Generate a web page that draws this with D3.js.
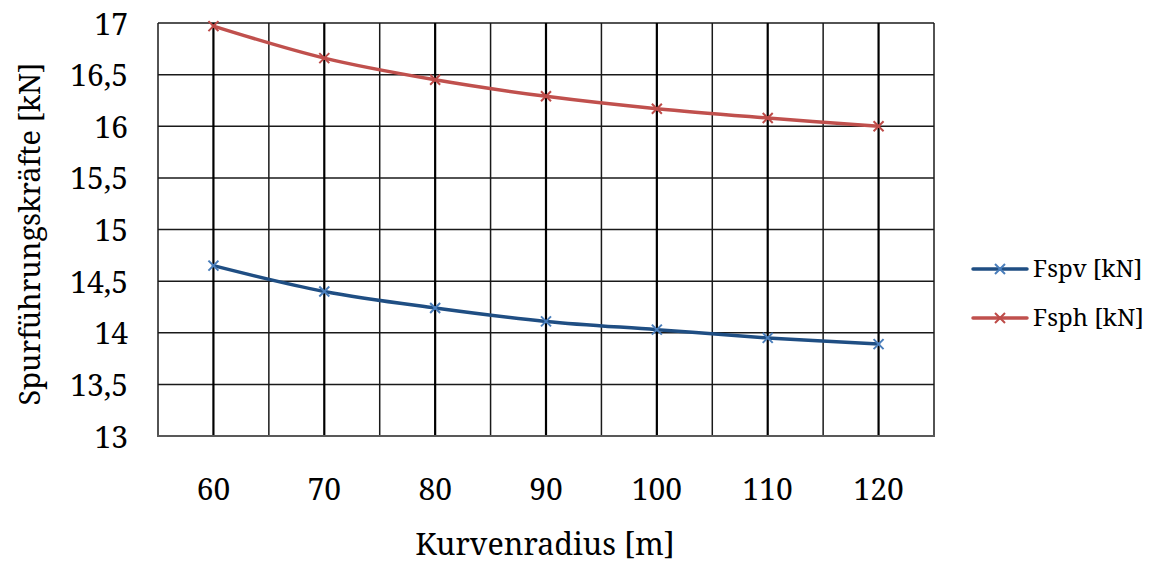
<!DOCTYPE html>
<html>
<head>
<meta charset="utf-8">
<script src="https://cdn.jsdelivr.net/npm/d3@7"></script>
<style>
  html, body { margin: 0; padding: 0; background: #fff; }
  svg text { font-family: "Noto Serif", "DejaVu Serif", serif; fill: #000; }
</style>
</head>
<body>
<svg id="chart" width="1165" height="563"></svg>
<script>
// Kurvenradius in m
const radii = [60, 70, 80, 90, 100, 110, 120];
// Spurführungskräfte in kN
const fspv = [14.65, 14.40, 14.24, 14.11, 14.03, 13.95, 13.89];
const fsph = [16.97, 16.66, 16.45, 16.29, 16.17, 16.08, 16.00];
const yTicks = [13, 13.5, 14, 14.5, 15, 15.5, 16, 16.5, 17];
const seriesNames = ["Fspv [kN]", "Fsph [kN]"];

const series = [
  { name: seriesNames[0], values: fspv, line: "#1F4E83", marker: "#4A7EBB" },
  { name: seriesNames[1], values: fsph, line: "#C0504D", marker: "#BE4B48" }
];

const FONT = '"Noto Serif", "DejaVu Serif", serif';
const svg = d3.select("#chart");
const plot = { left: 158, right: 934, top: 23, bottom: 436 };

const x = d3.scaleBand()
  .domain(radii)
  .range([plot.left, plot.right])
  .paddingInner(0).paddingOuter(0);

const y = d3.scaleLinear()
  .domain([13, 17])
  .range([plot.bottom, plot.top]);

const cx = r => x(r) + x.bandwidth() / 2;
const fmt = v => d3.format("~g")(v).replace(".", ",");

// horizontal gridlines
svg.append("g")
  .selectAll("line")
  .data(yTicks.filter(t => t > 13))
  .join("line")
  .attr("x1", plot.left).attr("x2", plot.right)
  .attr("y1", d => y(d)).attr("y2", d => y(d))
  .attr("stroke", "#1a1a1a").attr("stroke-width", 1.5);

// vertical gridlines at category boundaries
const edges = radii.map(r => x(r)).concat([plot.right]);
svg.append("g")
  .selectAll("line")
  .data(edges)
  .join("line")
  .attr("x1", d => d).attr("x2", d => d)
  .attr("y1", plot.top).attr("y2", plot.bottom)
  .attr("stroke", "#1a1a1a").attr("stroke-width", 1.5);

// vertical gridlines at category centres
svg.append("g")
  .selectAll("line")
  .data(radii)
  .join("line")
  .attr("x1", d => cx(d)).attr("x2", d => cx(d))
  .attr("y1", plot.top).attr("y2", plot.bottom)
  .attr("stroke", "#000").attr("stroke-width", 2.2);

// bottom axis line
svg.append("line")
  .attr("x1", plot.left - 1).attr("x2", plot.right + 1)
  .attr("y1", plot.bottom).attr("y2", plot.bottom)
  .attr("stroke", "#595959").attr("stroke-width", 2);

// y tick labels
const yAxis = d3.axisLeft(y).tickValues(yTicks).tickFormat(fmt).tickSize(0).tickPadding(30);
const gy = svg.append("g").attr("transform", `translate(${plot.left},0)`).call(yAxis);
gy.attr("font-family", FONT);
gy.select(".domain").remove();
gy.selectAll("text")
  .style("font-family", FONT)
  .attr("font-size", 30).attr("dy", 11);

// x tick labels
const xAxis = d3.axisBottom(x).tickSize(0).tickPadding(0);
const gx = svg.append("g").attr("transform", `translate(0,${plot.bottom})`).call(xAxis);
gx.attr("font-family", FONT);
gx.select(".domain").remove();
gx.selectAll("text")
  .style("font-family", FONT)
  .attr("font-size", 30).attr("y", 64).attr("dy", 0);

// axis titles
svg.append("text")
  .style("font-family", FONT)
  .attr("x", 545).attr("y", 555)
  .attr("text-anchor", "middle").attr("font-size", 30.5)
  .text("Kurvenradius [m]");

svg.append("text")
  .style("font-family", FONT)
  .attr("transform", "translate(40,234) rotate(-90)")
  .attr("text-anchor", "middle").attr("font-size", 29)
  .text("Spurführungskräfte [kN]");

// series lines and markers
const line = d3.line()
  .x((d, i) => cx(radii[i]))
  .y(d => y(d))
  .curve(d3.curveCatmullRom.alpha(0.5));

const xMark = (g, px, py, color) => {
  const s = 5;
  g.append("path")
    .attr("d", `M${px - s},${py - s}L${px + s},${py + s}M${px - s},${py + s}L${px + s},${py - s}`)
    .attr("stroke", color).attr("stroke-width", 2).attr("fill", "none");
};

series.forEach(s => {
  const g = svg.append("g");
  g.append("path")
    .datum(s.values)
    .attr("d", line)
    .attr("fill", "none")
    .attr("stroke", s.line)
    .attr("stroke-width", 3.5)
    .attr("stroke-linecap", "round");
  s.values.forEach((v, i) => xMark(g, cx(radii[i]), y(v), s.marker));
});

// legend
const legend = svg.append("g");
series.forEach((s, i) => {
  const ly = 269 + i * 49;
  legend.append("line")
    .attr("x1", 973).attr("x2", 1027).attr("y1", ly).attr("y2", ly)
    .attr("stroke", s.line).attr("stroke-width", 3.5).attr("stroke-linecap", "round");
  xMark(legend, 1000, ly, s.marker);
  legend.append("text")
    .style("font-family", FONT)
    .attr("x", 1033).attr("y", ly + 8)
    .attr("font-size", 24)
    .text(s.name);
});
</script>
</body>
</html>
